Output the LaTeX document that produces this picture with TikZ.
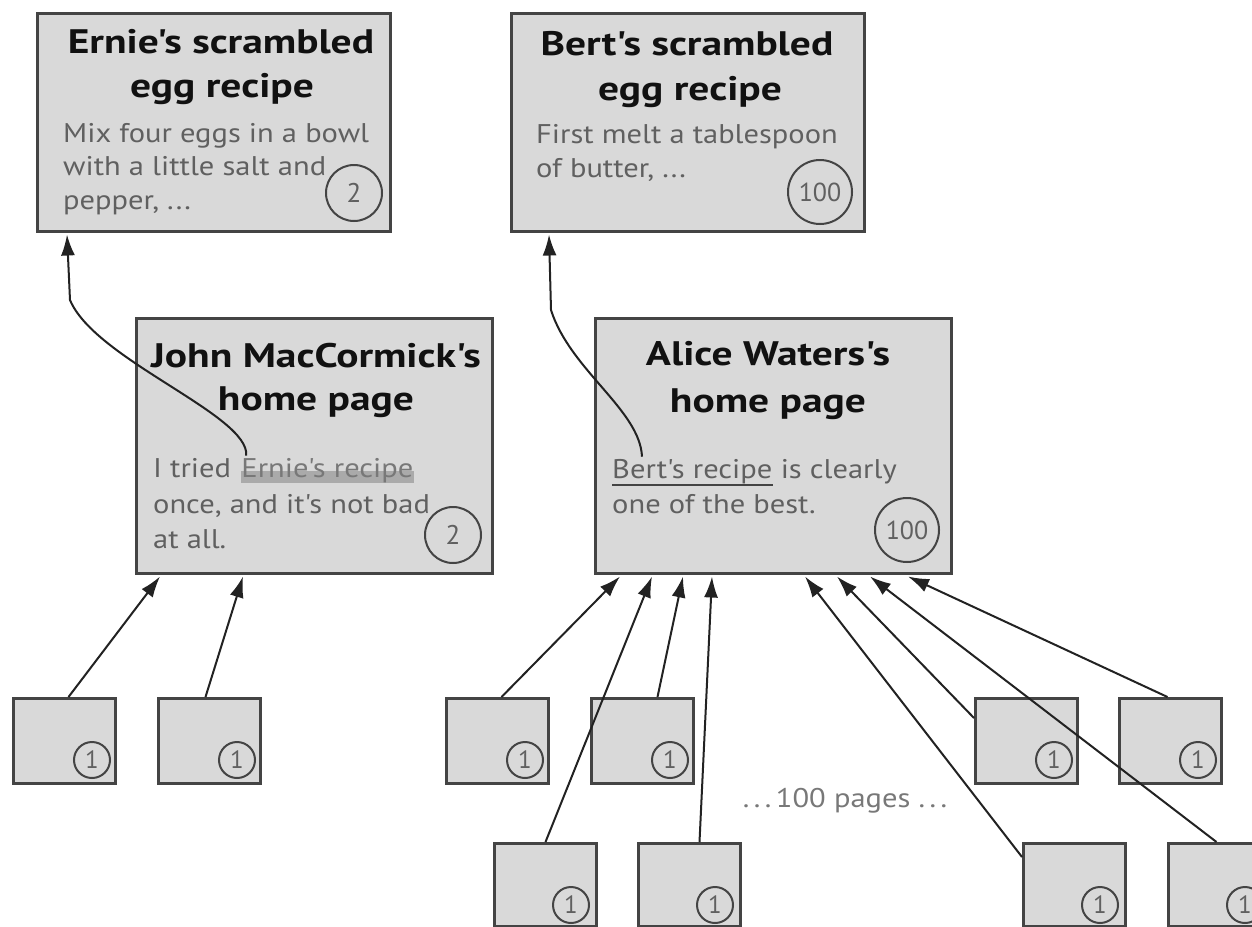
\documentclass[tikz,border=0pt]{standalone}
\usepackage{fontspec}
\setmainfont{PT Sans}
\newfontfamily\titlefont[FakeStretch=1.22]{PT Sans}
\newfontfamily\bodyfont[FakeStretch=1.13]{PT Sans}
\usetikzlibrary{arrows.meta,calc}
\definecolor{boxfill}{RGB}{217,217,217}
\definecolor{boxline}{RGB}{68,68,68}
\definecolor{bodytext}{RGB}{96,96,96}
\definecolor{titletext}{RGB}{17,17,17}
\definecolor{linkband}{RGB}{170,170,170}
\definecolor{linktext}{RGB}{120,120,120}
\definecolor{arrowcol}{RGB}{34,34,34}
\definecolor{moretext}{RGB}{120,120,120}
\begin{document}
\begin{tikzpicture}[x=1pt,y=-1pt,
  pagebox/.style={draw=boxline,fill=boxfill,line width=3pt,inner sep=0pt,anchor=north west},
  bigpage/.style={pagebox,minimum width=353pt,minimum height=218pt},
  midpage/.style={pagebox,minimum width=356pt,minimum height=255pt},
  smallpage/.style={pagebox,minimum width=102pt,minimum height=85pt},
  lowpage/.style={pagebox,minimum width=102pt,minimum height=83pt},
  titleline/.style={inner sep=0pt,anchor=base,text=titletext,font=\titlefont\fontsize{34}{40}\selectfont\bfseries},
  bodyline/.style={inner sep=0pt,anchor=base west,text=bodytext,font=\bodyfont\fontsize{27}{30}\selectfont},
  numc/.style={circle,draw=boxline,line width=2pt,inner sep=0pt,text=bodytext,font=\fontsize{27}{27}\selectfont},
  bignum/.style={numc,minimum size=56pt},
  hugenum/.style={numc,minimum size=64pt,font=\fontsize{26}{26}\selectfont},
  onenum/.style={numc,minimum size=36pt,font=\fontsize{25}{25}\selectfont},
  arr/.style={draw=arrowcol,line width=2pt,-{Latex[length=21pt,width=14pt]}}
]
\useasboundingbox (0,0) rectangle (1252,926);
\clip (0,0) rectangle (1252,926);

% ---- top pages ----
\node[bigpage] (ernie) at (36,12) {};
\node[titleline] (ernieT1) at (221,53) {Ernie's scrambled};
\node[titleline] (ernieT2) at (222,97) {egg recipe};
\node[bodyline] (ernieB1) at (63,142) {Mix four eggs in a bowl};
\node[bodyline] (ernieB2) at (63,175) {with a little salt and};
\node[bodyline] (ernieB3) at (63,209) {pepper, ...};
\node[bignum] (ernieN) at (354,193) {2};

\node[bigpage] (bert) at (510,12) {};
\node[titleline] (bertT1) at (687,55) {Bert's scrambled};
\node[titleline] (bertT2) at (690,100) {egg recipe};
\node[bodyline] (bertB1) at (536,143) {First melt a tablespoon};
\node[bodyline] (bertB2) at (536,177) {of butter, ...};
\node[hugenum] (bertN) at (820,192) {100};

% ---- middle pages ----
\node[midpage] (john) at (135,317) {};
\node[titleline] (johnT1) at (316,367) {John MacCormick's};
\node[titleline] (johnT2) at (316,410) {home page};
\node[bodyline] (johnB1) at (153,477) {I tried};
\node[bodyline,text=linktext] (johnlink) at ($(johnB1.base east)+(10,0)$) {\phantom{Ernie's recipe}};
\fill[linkband] ($(johnlink.base west)+(0,-6)$) rectangle ($(johnlink.base east)+(0,6)$);
\node[bodyline,text=linktext] (johnlinkT) at (johnlink.base west) {Ernie's recipe};
\node[bodyline] (johnB2) at (153,513) {once, and it's not bad};
\node[bodyline] (johnB3) at (153,548) {at all.};
\node[bignum] (johnN) at (453,535) {2};

\node[midpage] (alice) at (594,317) {};
\node[titleline] (aliceT1) at (768,365) {Alice Waters's};
\node[titleline] (aliceT2) at (768,412) {home page};
\node[bodyline] (alicelink) at (612,478) {Bert's recipe};
\draw[boxline,line width=2pt] ($(alicelink.base west)+(0,7)$) -- ($(alicelink.base east)+(0,7)$);
\node[bodyline] (aliceB1) at ($(alicelink.base east)+(8,0)$) {is clearly};
\node[bodyline] (aliceB2) at (612,513) {one of the best.};
\node[hugenum] (aliceN) at (907,530) {100};

% ---- small pages, row 1 ----
\node[smallpage] (a1) at (12,697) {};
\node[smallpage] (a2) at (157,697) {};
\node[smallpage] (b1) at (445,697) {};
\node[smallpage] (b2) at (590,697) {};
\node[smallpage] (b3) at (974,697) {};
\node[smallpage] (b4) at (1118,697) {};
% ---- small pages, row 2 ----
\node[lowpage] (c1) at (493,842) {};
\node[lowpage] (c2) at (637,842) {};
\node[lowpage] (c3) at (1022,842) {};
\node[lowpage] (c4) at (1167,842) {};

\foreach \p in {a1,a2,b1,b2,b3,b4}{
  \node[onenum] (\p n) at ($(\p.south east)+(-25,-25)$) {1};
}
\foreach \p in {c1,c2,c3,c4}{
  \node[onenum] (\p n) at ($(\p.south east)+(-27,-23)$) {1};
}

\node[inner sep=0pt,anchor=base,text=moretext,font=\bodyfont\fontsize{27}{30}\selectfont] (more) at (845,807) {.\,.\,.\,100 pages .\,.\,.};

% ---- links ----
\draw[arr] ($(johnlink.north west)+(5,-2)$) .. controls (250,415) and (95,360) .. (70,300) -- ($(ernie.south west)+(31,1.5)$);
\draw[arr] ($(alicelink.north west)+(30,-2)$) .. controls (640,410) and (570,370) .. (551,310) -- ($(bert.south west)+(39,1.5)$);

\draw[arr] ($(a1.north)+(4,0)$) -- ($(john.south west)+(25,1.5)$);
\draw[arr] ($(a2.north)+(-4,0)$) -- ($(john.south west)+(108,1.5)$);

\draw[arr] ($(b1.north)+(4,0)$) -- ($(alice.south west)+(26,1.5)$);
\draw[arr] (c1.north) -- ($(alice.south west)+(58,1.5)$);
\draw[arr] ($(b2.north)+(15,0)$) -- ($(alice.south west)+(89,1.5)$);
\draw[arr] ($(c2.north)+(10,0)$) -- ($(alice.south west)+(118,1.5)$);
\draw[arr] ($(c3.north west)+(0,15)$) -- ($(alice.south west)+(211,1.5)$);
\draw[arr] ($(b3.north west)+(0,21)$) -- ($(alice.south west)+(243,1.5)$);
\draw[arr] ($(c4.north)+(-3,0)$) -- ($(alice.south west)+(276,1.5)$);
\draw[arr] ($(b4.north)+(-3,0)$) -- ($(alice.south west)+(314,1.5)$);
\end{tikzpicture}
\end{document}
